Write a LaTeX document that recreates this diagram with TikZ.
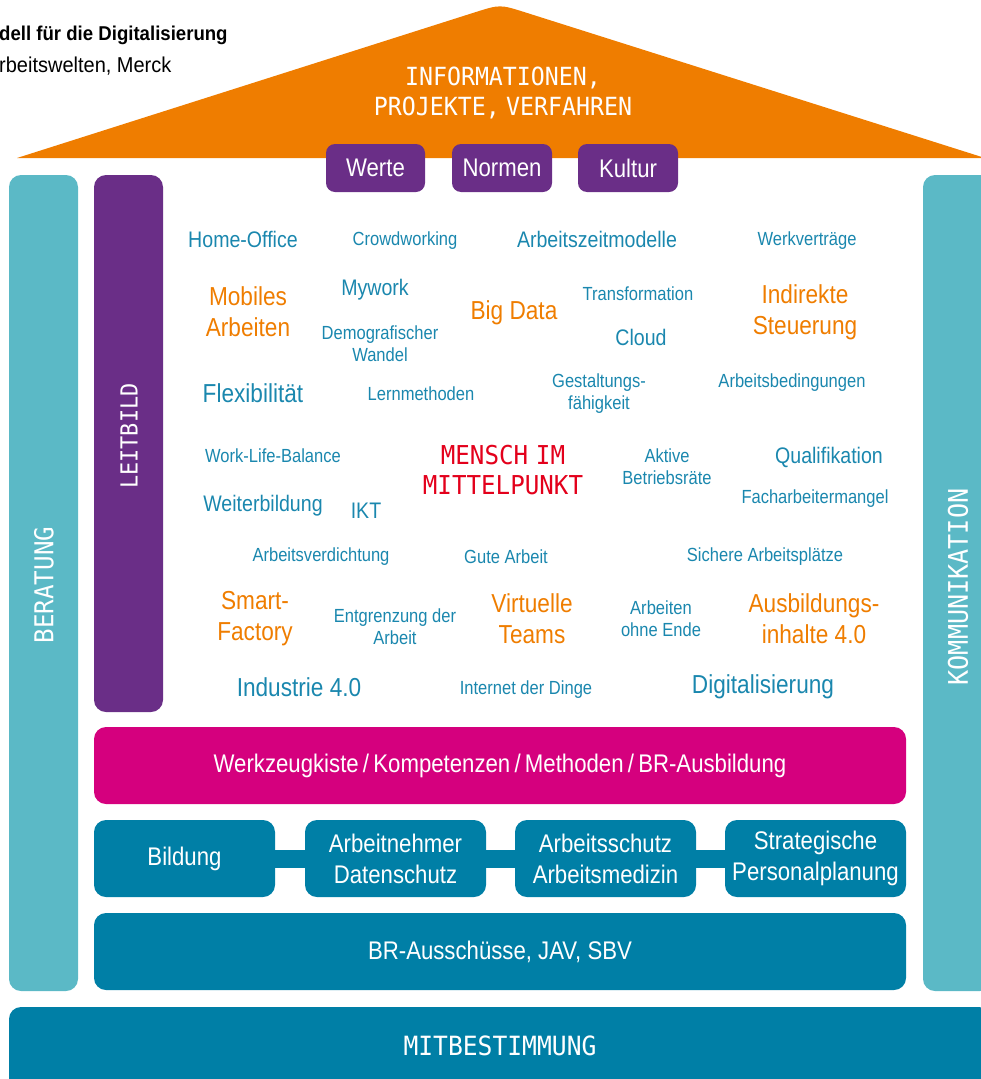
\documentclass[tikz,border=0pt]{standalone}
\usepackage{fontspec}
\setmainfont{Liberation Sans}[FakeStretch=0.87]
\newfontfamily\capsfont{DejaVu Sans Mono}[FakeStretch=0.93]
\newfontfamily\titlefont{Liberation Sans}[FakeStretch=0.93]
\definecolor{corange}{HTML}{EF7D00}
\definecolor{cpurple}{HTML}{6A2E87}
\definecolor{clteal}{HTML}{5BB9C6}
\definecolor{cdteal}{HTML}{007FA6}
\definecolor{cmagenta}{HTML}{D5007E}
\definecolor{cword}{HTML}{1A87AE}
\definecolor{cred}{HTML}{E3001B}
\tikzset{
  box/.style={rectangle, rounded corners=12pt, inner sep=0pt, align=center, text=white,
    font=\fontsize{25.5}{31}\selectfont},
  pillar/.style={rectangle, rounded corners=12pt, inner sep=0pt, rotate=90},
  caps/.style={text=white, inner sep=0pt, align=center},
  ws/.style={text=cword, inner sep=0pt, align=center, font=\fontsize{19}{22}\selectfont},
  wm/.style={text=cword, inner sep=0pt, align=center, font=\fontsize{22.5}{27}\selectfont},
  wl/.style={text=cword, inner sep=0pt, align=center, font=\fontsize{26}{31}\selectfont},
  wo/.style={text=corange, inner sep=0pt, align=center, font=\fontsize{26}{31}\selectfont},
  conn/.style={draw=cdteal, line width=18pt},
}
\begin{document}
\begin{tikzpicture}[x=1pt,y=-1pt]
\useasboundingbox (0,0) rectangle (981,1079);
\clip (0,0) rectangle (981,1079);

% title
\node[anchor=base west, inner sep=0pt, font=\titlefont\bfseries\fontsize{20}{24}\selectfont] (title1) at (-1,40.7) {dell für die Digitalisierung};
\node[anchor=base west, inner sep=0pt, font=\titlefont\fontsize{21.5}{26}\selectfont] (title2) at (-1,72.7) {rbeitswelten, Merck};

% roof
\fill[corange] (17,158) -- (475,12.3) .. controls (500,4.4) .. (525,12.3) -- (985,158) -- cycle;
\node[caps, font=\capsfont\fontsize{25}{30}\selectfont] (roof) at (503,93) {INFORMATIONEN,\\PROJEKTE,\hspace{0.25em}VERFAHREN};

% values
\node[box, fill=cpurple, minimum width=99pt, minimum height=48pt, rounded corners=9pt] (werte) at (375.5,168) {Werte};
\node[box, fill=cpurple, minimum width=100pt, minimum height=48pt, rounded corners=9pt] (normen) at (502,168) {Normen};
\node[box, fill=cpurple, minimum width=100pt, minimum height=48pt, rounded corners=9pt] (kultur) at (628,168) {Kultur};

% pillars
\node[pillar, fill=clteal, minimum width=816pt, minimum height=69pt] (beratung) at (43.5,583) {};
\node[caps, rotate=90, font=\capsfont\fontsize{26}{30}\selectfont] (beratungtxt) at (44,585) {BERATUNG};
\node[pillar, fill=cpurple, minimum width=537pt, minimum height=69pt] (leitbild) at (128.5,443.5) {};
\node[caps, rotate=90, font=\capsfont\fontsize{23.5}{30}\selectfont] (leitbildtxt) at (129,436) {LEITBILD};
\node[pillar, fill=clteal, minimum width=816pt, minimum height=69pt] (komm) at (957.5,583) {};
\node[caps, rotate=90, font=\capsfont\fontsize{27}{30}\selectfont] (kommtxt) at (958,587) {KOMMUNIKATION};

% bars
\node[box, fill=cmagenta, minimum width=812pt, minimum height=77pt] (werkzeug) at (500,765.5) {Werkzeugkiste\,/\,Kompetenzen\,/\,Methoden\,/\,BR-Ausbildung};
\node[box, fill=cdteal, minimum width=181pt, minimum height=77pt] (bildung) at (184.5,858.5) {Bildung};
\node[box, fill=cdteal, minimum width=181pt, minimum height=77pt] (arbn) at (395.5,858.5) {Arbeitnehmer\\Datenschutz};
\node[box, fill=cdteal, minimum width=181pt, minimum height=77pt] (arbs) at (605.5,858.5) {Arbeitsschutz\\Arbeitsmedizin};
\node[box, fill=cdteal, minimum width=181pt, minimum height=77pt] (strat) at (815.5,858.5) {Strategische\\Personalplanung};
\draw[conn] (bildung) -- (arbn);
\draw[conn] (arbn) -- (arbs);
\draw[conn] (arbs) -- (strat);
\node[box, fill=cdteal, minimum width=812pt, minimum height=77pt] (brauss) at (500,951.5) {BR-Ausschüsse, JAV, SBV};
\node[box, fill=cdteal, minimum width=982pt, minimum height=84pt] (mitbest) at (500,1049) {};
\node[caps, font=\capsfont\fontsize{26.5}{30}\selectfont] (mitbesttxt) at (500,1046) {MITBESTIMMUNG};

% word cloud
\node[wm] (w1) at (243,239) {Home-Office};
\node[ws] (w2) at (405,241) {Crowdworking};
\node[wm] (w3) at (597,239) {Arbeitszeitmodelle};
\node[ws] (w4) at (807,241) {Werkverträge};
\node[wo] (w5) at (248,312) {Mobiles\\Arbeiten};
\node[wm] (w6) at (375,290) {Mywork};
\node[ws] (w7) at (380,344) {Demografischer\\Wandel};
\node[wo] (w8) at (514,313) {Big Data};
\node[ws] (w9) at (638,294) {Transformation};
\node[wm] (w10) at (641,337) {Cloud};
\node[wo] (w11) at (805,312) {Indirekte\\Steuerung};
\node[wl] (w12) at (253,393) {Flexibilität};
\node[ws] (w13) at (421,394) {Lernmethoden};
\node[ws] (w14) at (599,394) {Gestaltungs-\\fähigkeit};
\node[ws] (w15) at (792,383) {Arbeitsbedingungen};
\node[ws] (w16) at (273,456) {Work-Life-Balance};
\node[inner sep=0pt, align=center, text=cred, font=\capsfont\fontsize{26}{30}\selectfont] (w17) at (503,470) {MENSCH\hspace{0.3em}IM\\MITTELPUNKT};
\node[ws] (w18) at (667,467) {Aktive\\Betriebsräte};
\node[wm] (w19) at (829,457) {Qualifikation};
\node[wm] (w20) at (263,506) {Weiterbildung};
\node[wm] (w21) at (366,511) {IKT};
\node[ws] (w22) at (815,499) {Facharbeitermangel};
\node[ws] (w23) at (321,557) {Arbeitsverdichtung};
\node[ws] (w24) at (506,557) {Gute Arbeit};
\node[ws] (w25) at (765,557) {Sichere Arbeitsplätze};
\node[wo] (w26) at (255,619) {Smart-\\Factory};
\node[ws] (w27) at (395,627) {Entgrenzung der\\Arbeit};
\node[wo] (w28) at (532,619) {Virtuelle\\Teams};
\node[ws] (w29) at (661,619) {Arbeiten\\ohne Ende};
\node[wo] (w30) at (814,619) {Ausbildungs-\\inhalte 4.0};
\node[wl] (w31) at (299,687) {Industrie 4.0};
\node[ws] (w32) at (526,690) {Internet der Dinge};
\node[wl] (w33) at (763,687) {Digitalisierung};
\end{tikzpicture}
\end{document}
